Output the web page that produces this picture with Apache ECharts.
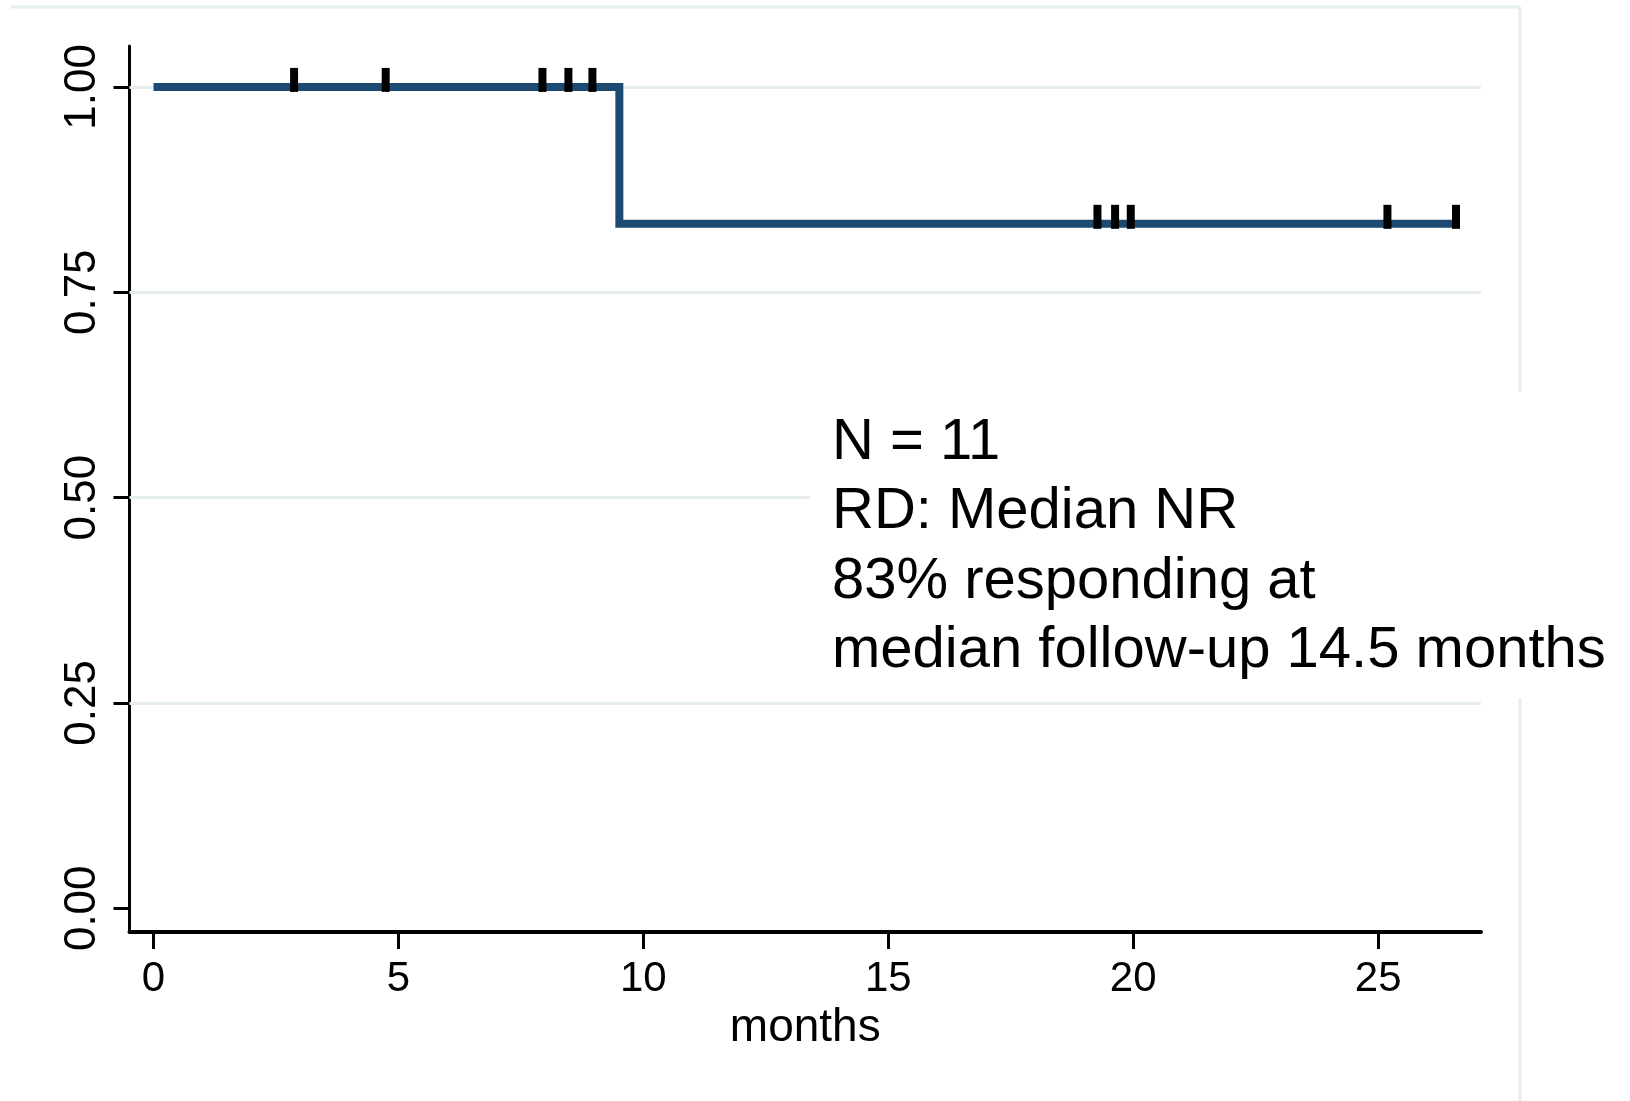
<!DOCTYPE html>
<html>
<head>
<meta charset="utf-8">
<script src="https://cdn.jsdelivr.net/npm/echarts@6/dist/echarts.min.js"></script>
<style>
html,body{margin:0;padding:0;background:#fff;}
#chart{width:1630px;height:1101px;}
</style>
</head>
<body>
<div id="chart"></div>
<script>
// Kaplan-Meier step curve (time in months, proportion responding)
const kmTimes = [0, 9.51, 26.59];
const kmSurv = [1.0, 0.8333, 0.8333];
// Censored observations
const censorTimes = [2.87, 4.74, 7.94, 8.47, 8.96, 19.27, 19.63, 19.95, 25.19, 26.59];
const censorSurv = [1.0, 1.0, 1.0, 1.0, 1.0, 0.8333, 0.8333, 0.8333, 0.8333, 0.8333];
// Tick labels
const xTicks = [0, 5, 10, 15, 20, 25];
const yTicks = [0, 0.25, 0.5, 0.75, 1.0];
const yGridLines = [0.25, 0.5, 0.75, 1.0];
const annotationLines = ['N = 11', 'RD: Median NR', '83% responding at', 'median follow-up 14.5 months'];

const FONT = '"Liberation Sans", Arial, Helvetica, sans-serif';
const chart = echarts.init(document.getElementById('chart'), null, {renderer: 'canvas'});

const kmData = kmTimes.map((t, i) => [t, kmSurv[i]]);
const censorData = censorTimes.map((t, i) => [t, censorSurv[i]]);

chart.setOption({
  backgroundColor: '#ffffff',
  animation: false,
  grid: {left: 129.5, right: 149, top: 46, bottom: 169, containLabel: false},
  xAxis: {
    type: 'value', min: -0.49, max: 27.1,
    name: 'months', nameLocation: 'middle', nameGap: 70,
    nameTextStyle: {fontFamily: FONT, fontSize: 46, color: '#000'},
    axisLine: {show: true, onZero: false, lineStyle: {color: '#000', width: 4}},
    axisTick: {show: true, length: 17, lineStyle: {color: '#000', width: 3}, customValues: xTicks},
    axisLabel: {show: true, customValues: xTicks, fontFamily: FONT, fontSize: 42, color: '#000', margin: 26,
      formatter: v => String(v)},
    splitLine: {show: false}
  },
  yAxis: {
    type: 'value', min: -0.0289, max: 1.0498,
    axisLine: {show: true, onZero: false, lineStyle: {color: '#000', width: 3}},
    axisTick: {show: true, length: 16, lineStyle: {color: '#000', width: 3}, customValues: yTicks},
    axisLabel: {show: true, customValues: yTicks, rotate: 90, fontFamily: FONT, fontSize: 44, color: '#000', margin: 25,
      formatter: v => v.toFixed(2)},
    splitLine: {show: false}
  },
  series: [
    {
      name: 'grid', type: 'line', silent: true, showSymbol: false, data: [], z: 1,
      markLine: {
        silent: true, symbol: 'none', label: {show: false}, z: 1,
        lineStyle: {color: '#e6eeef', width: 3, type: 'solid'},
        data: yGridLines.map(v => ({yAxis: v}))
      }
    },
    {
      name: 'KM', type: 'line', step: 'end', data: kmData, showSymbol: false,
      lineStyle: {color: '#1c4a70', width: 8, cap: 'butt', join: 'miter'}, z: 5
    },
    {
      name: 'censored', type: 'scatter', data: censorData,
      symbol: 'rect', symbolSize: [8, 24], symbolOffset: [0, -7],
      itemStyle: {color: '#000', opacity: 1}, z: 6
    }
  ],
  graphic: [
    {type: 'line', shape: {x1: 11, y1: 7, x2: 1520, y2: 7}, style: {stroke: '#e6eeef', lineWidth: 3}, z: 1},
    {type: 'line', shape: {x1: 1520, y1: 7, x2: 1520, y2: 1101}, style: {stroke: '#e6eeef', lineWidth: 3}, z: 1},
    {type: 'rect', shape: {x: 810, y: 392, width: 820, height: 306}, style: {fill: '#ffffff'}, z: 10},
    {type: 'text', x: 832, y: 408, z: 11,
      style: {text: annotationLines.join('\n'), font: '58px ' + FONT, fill: '#000', lineHeight: 69.5,
        textAlign: 'left', textVerticalAlign: 'top'}}
  ]
});
</script>
</body>
</html>
